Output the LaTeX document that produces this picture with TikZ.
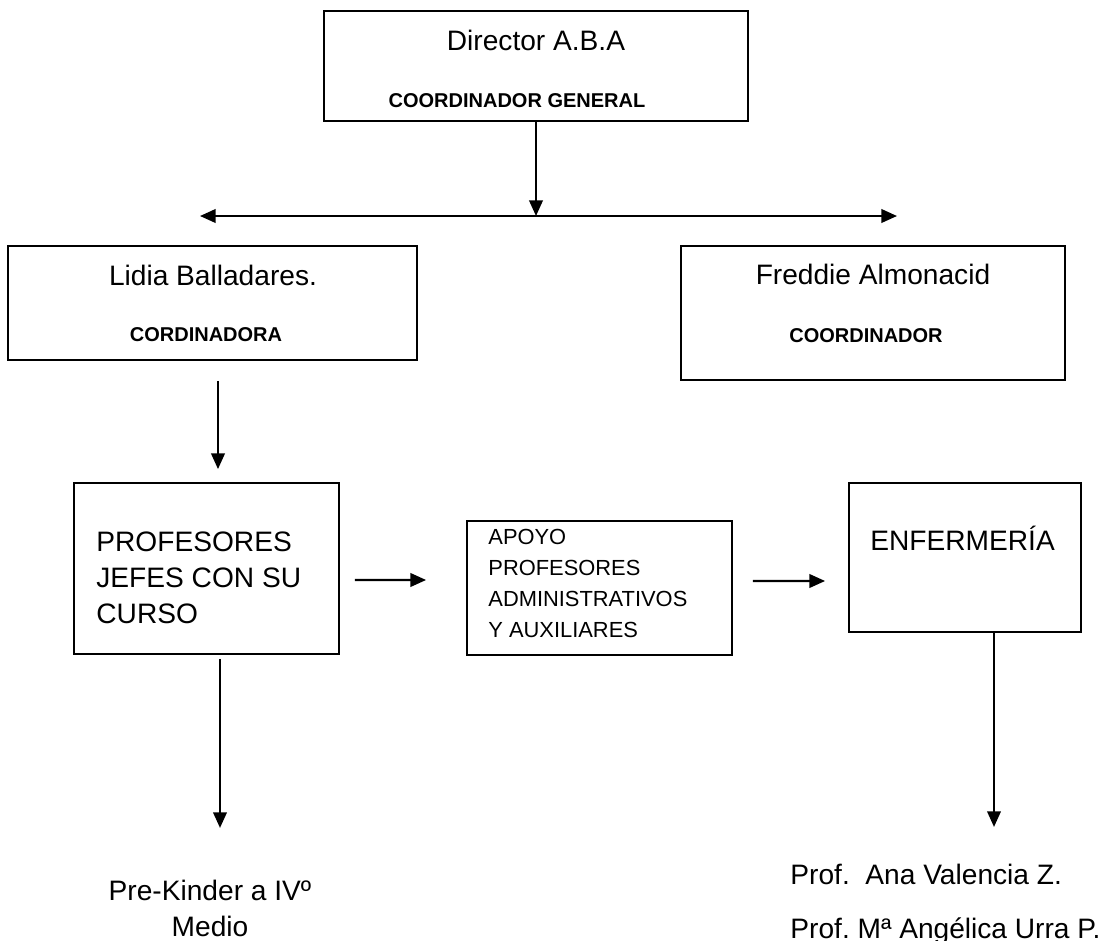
\documentclass[tikz,border=0pt]{standalone}
\usepackage{fontspec}
\setmainfont{Liberation Sans}
\usetikzlibrary{arrows.meta, calc, positioning}

\tikzset{
  box/.style 2 args={draw, line width=.9pt, minimum width=#1*.48pt, minimum height=#2*.48pt, inner sep=0pt},
  headtext/.style={font=\fontsize{13.5}{16}\selectfont, inner sep=0pt, anchor=base},
  roletext/.style={font=\fontsize{9.6}{12}\selectfont\bfseries, inner sep=0pt, anchor=base},
  smalltext/.style={font=\fontsize{10.5}{12}\selectfont, inner sep=0pt, anchor=base west},
  arr/.style={line width=1pt, -{Triangle[length=7.5pt,width=6.5pt]}},
  dblarr/.style={line width=1pt, {Triangle[length=7.5pt,width=6.5pt]}-{Triangle[length=7.5pt,width=6.5pt]}},
}

\begin{document}
\frenchspacing
\begin{tikzpicture}[x=.48pt, y=-.48pt]
  \useasboundingbox (0,0) rectangle (1115,941);

  % boxes
  \node[box={424}{110}] (director) at (536,66) {};
  \node[box={409}{114}] (lidia) at (212.5,303) {};
  \node[box={384}{134}] (freddie) at (873,313) {};
  \node[box={265}{171}] (jefes) at (206.5,568.5) {};
  \node[box={265}{134}] (apoyo) at (599.5,588) {};
  \node[box={232}{149}] (enfermeria) at (965,557.5) {};

  % texts in the boxes
  \node[headtext] (dirname) at (536,50) {Director A.B.A};
  \node[roletext] (dirrole) at (517,107) {COORDINADOR GENERAL};
  \node[headtext] (lidianame) at (213,285) {Lidia Balladares.};
  \node[roletext] (lidiarole) at (206,341) {CORDINADORA};
  \node[headtext] (freddiename) at (873,284) {Freddie Almonacid};
  \node[roletext] (freddierole) at (866,342) {COORDINADOR};
  \foreach [count=\i] \t in {PROFESORES, JEFES CON SU, CURSO}
    \node[headtext, anchor=base west] (jefes\i) at (96,515+36*\i) {\t};
  \foreach [count=\i] \t in {APOYO, PROFESORES, ADMINISTRATIVOS, Y AUXILIARES}
    \node[smalltext] (apoyo\i) at (488,513+31*\i) {\t};
  \node[headtext, anchor=base west] (enftext) at (870,550) {ENFERMERÍA};

  % texts below
  \node[headtext] (curso1) at (210,900) {Pre-Kinder a IVº};
  \node[headtext] (curso2) at (210,936) {Medio};
  \node[headtext, anchor=base west] (prof1) at (790,884) {Prof.\ \ Ana Valencia Z.};
  \node[headtext, anchor=base west] (prof2) at (790,938) {Prof. Mª Angélica Urra P.};

  % arrows
  \coordinate (split) at (536,216);
  \coordinate (hleft) at (200,216);
  \coordinate (hright) at (897,216);
  \draw[arr] (director.south) -- (split);
  \draw[dblarr] (hleft) -- (hright);
  \draw[arr] ($(lidia.south)+(5.5,20)$) -- ($(jefes.north)+(11.5,-13)$);
  \draw[arr] ($(jefes.east)+(15,11.5)$) -- ($(apoyo.west)+(-40,-8)$);
  \draw[arr] ($(apoyo.east)+(20,-7)$) -- ($(enfermeria.west)+(-23,23.5)$);
  \draw[arr] ($(jefes.south)+(13.5,4)$) -- ($(jefes.south)+(13.5,173)$);
  \draw[arr] ($(enfermeria.south)+(29,0)$) -- ($(enfermeria.south)+(29,194)$);
\end{tikzpicture}
\end{document}
